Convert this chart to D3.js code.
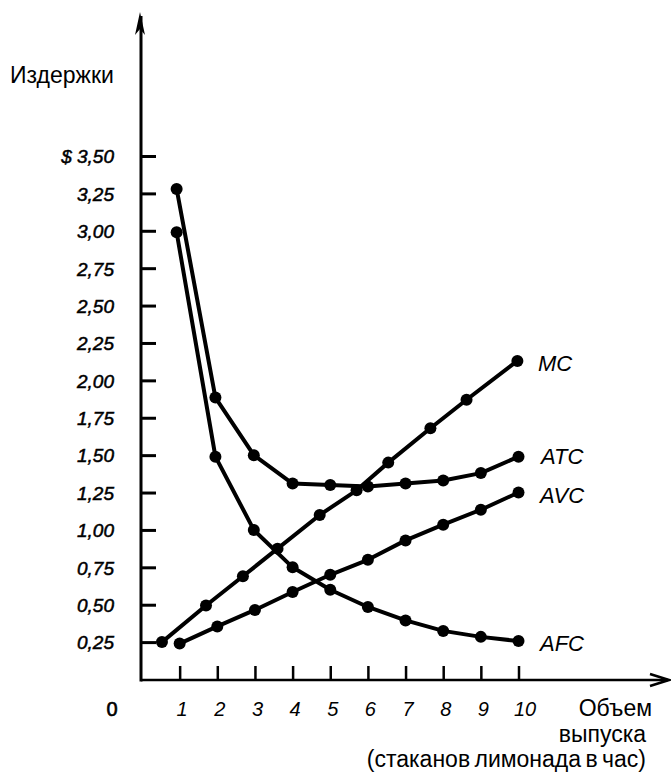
<!DOCTYPE html>
<html lang="ru">
<head>
    <meta charset="UTF-8">
    <title>Издержки</title>
    <script src="https://d3js.org/d3.v7.js"></script>
    <style>
        body { margin: 0; background: white; }
        text { font-family: "Liberation Sans", Arial, sans-serif; fill: black; }
    </style>
</head>
<body>
<script>
    // quantities (glasses per hour) and per-unit costs
    const qty = [1, 2, 3, 4, 5, 6, 7, 8, 9, 10];
    const fixedQty = [0.92, 1.95, 2.97, 4, 5, 6, 7, 8, 9, 10];
    const afc = [2.99, 1.49, 1.00, 0.75, 0.60, 0.485, 0.395, 0.325, 0.285, 0.257];
    const atc = [3.28, 1.885, 1.50, 1.31, 1.30, 1.29, 1.31, 1.33, 1.38, 1.49];
    const avc = [0.24, 0.355, 0.465, 0.585, 0.70, 0.80, 0.93, 1.035, 1.135, 1.25];
    const mcQty = [0.53, 1.7, 2.68, 3.6, 4.72, 5.7, 6.54, 7.66, 8.62, 9.97];
    const mc = [0.25, 0.495, 0.69, 0.875, 1.10, 1.265, 1.45, 1.68, 1.87, 2.13];
    const yTicks = [0.25, 0.5, 0.75, 1, 1.25, 1.5, 1.75, 2, 2.25, 2.5, 2.75, 3, 3.25, 3.5];
    const curveNames = ["MC", "ATC", "AVC", "AFC"];

    const width = 671, height = 773;
    const x0 = 141, y0 = 680;

    const svg = d3.select("body")
        .append("svg")
        .attr("width", width)
        .attr("height", height);

    const x = d3.scaleLinear().domain([0, 10]).range([142, 518.5]);
    const y = d3.scaleLinear().domain([0, 3.5]).range([679.5, 156]);

    const fmt = d => (d === 3.5 ? "$ " : "") + d3.format(".2f")(d).replace(".", ",");

    // y axis ticks + labels
    const gy = svg.append("g")
        .attr("transform", `translate(${x0},0)`)
        .call(d3.axisLeft(y).tickValues(yTicks).tickFormat(fmt)
            .tickSizeInner(-15).tickSizeOuter(0).tickPadding(27));
    gy.select(".domain").remove();
    gy.selectAll(".tick line").attr("stroke", "black").attr("stroke-width", 3);
    gy.selectAll(".tick text")
        .style("font-size", "19px")
        .style("font-style", "italic")
        .attr("stroke", "black").attr("stroke-width", 0.5)
        .attr("dy", "0.36em");

    // x axis ticks + labels
    const gx = svg.append("g")
        .attr("transform", `translate(0,${y0})`)
        .call(d3.axisBottom(x).tickValues(qty).tickFormat(d3.format("d"))
            .tickSizeInner(-14).tickSizeOuter(0).tickPadding(22));
    gx.select(".domain").remove();
    gx.selectAll(".tick line").attr("stroke", "black").attr("stroke-width", 2.5);
    gx.selectAll(".tick text")
        .style("font-size", "20px")
        .style("font-style", "italic")
        .attr("dx", d => d === 10 ? 6 : 2);

    // axis lines with arrows
    svg.append("line")
        .attr("x1", x0).attr("y1", y0 + 1.5)
        .attr("x2", x0).attr("y2", 16)
        .attr("stroke", "black").attr("stroke-width", 3);
    svg.append("path")
        .attr("d", `M${x0 - 1},12 L${x0 - 6},35 L${x0 - 1},29 L${x0 + 4},35 Z`)
        .attr("fill", "black");
    svg.append("line")
        .attr("x1", x0).attr("y1", y0)
        .attr("x2", 668).attr("y2", y0)
        .attr("stroke", "black").attr("stroke-width", 2.5);
    svg.append("path")
        .attr("d", `M650,${y0 - 6} L669,${y0} L650,${y0 + 6}`)
        .attr("fill", "none").attr("stroke", "black").attr("stroke-width", 2.5);

    svg.append("text")
        .attr("x", 112).attr("y", 716)
        .attr("text-anchor", "middle")
        .attr("stroke", "black").attr("stroke-width", 0.6)
        .style("font-size", "20px")
        .text("0");

    // axis titles
    svg.append("text")
        .attr("x", 10).attr("y", 83)
        .style("font-size", "23px")
        .text("Издержки");
    const xTitle = ["Объем", "выпуска", "(стаканов лимонада в час)"];
    svg.selectAll(".xtitle")
        .data(xTitle)
        .join("text")
        .attr("class", "xtitle")
        .attr("x", (d, i) => i === 0 ? 652 : 646)
        .attr("y", (d, i) => [716, 742, 767][i])
        .attr("text-anchor", "end")
        .style("font-size", "23px")
        .style("word-spacing", (d, i) => i === 2 ? "-2px" : null)
        .text(d => d);

    // curves
    const series = [
        {name: "MC", xs: mcQty, ys: mc},
        {name: "ATC", xs: fixedQty, ys: atc},
        {name: "AVC", xs: qty, ys: avc},
        {name: "AFC", xs: fixedQty, ys: afc}
    ];
    const line = d3.line().x(d => x(d[0])).y(d => y(d[1]));

    series.forEach(s => {
        const pts = d3.zip(s.xs, s.ys);
        svg.append("path")
            .datum(pts)
            .attr("d", line)
            .attr("fill", "none")
            .attr("stroke", "black")
            .attr("stroke-width", 4)
            .attr("stroke-linejoin", "round");
        svg.append("g")
            .selectAll("circle")
            .data(pts)
            .join("circle")
            .attr("cx", d => x(d[0]))
            .attr("cy", d => y(d[1]))
            .attr("r", 6)
            .attr("fill", "black");
    });

    // curve labels next to the last point
    const labelPos = {MC: [538, 371], ATC: [541, 464], AVC: [540, 503], AFC: [540, 651]};
    svg.selectAll(".clabel")
        .data(curveNames)
        .join("text")
        .attr("class", "clabel")
        .attr("x", d => labelPos[d][0])
        .attr("y", d => labelPos[d][1])
        .style("font-size", "22px")
        .style("font-style", "italic")
        .text(d => d);
</script>
</body>
</html>
